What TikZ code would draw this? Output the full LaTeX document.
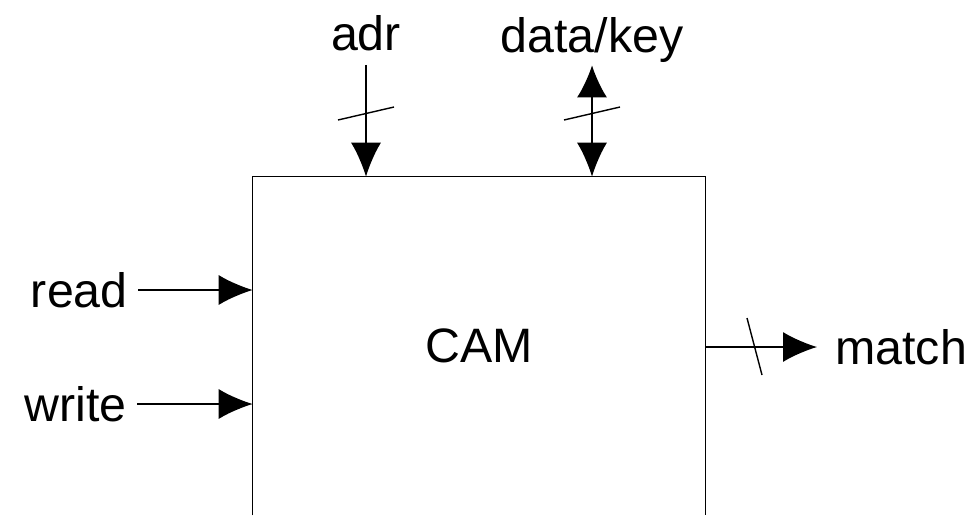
\documentclass[tikz,border=0pt]{standalone}
\usepackage{fontspec}
\setmainfont{Liberation Sans}
\usetikzlibrary{arrows.meta}

\begin{document}
\begin{tikzpicture}[
    x=0.02cm, y=-0.02cm,
    lbl/.style={font=\fontsize{27.5}{33}\selectfont, inner sep=0pt},
    sig/.style={-{Latex[length=0.68cm, width=0.6cm]}, line width=0.8pt},
    bidir/.style={{Latex[length=0.64cm, width=0.6cm]}-{Latex[length=0.68cm, width=0.6cm]}, line width=0.8pt},
    tick/.style={line width=0.8pt}
]
\useasboundingbox (0,0) rectangle (976,515);
\node[lbl, minimum width=9.04cm, minimum height=6.76cm] (cam) at (479,346) {CAM};
\draw[line width=0.9pt] (cam.south west) -- (cam.north west) -- (cam.north east) -- (cam.south east);

\node[lbl, anchor=base] (adr) at (366,50) {adr};
\node[lbl, anchor=base] (data) at (592,52) {data/key};
\node[lbl, anchor=east] (read) at (128,290) {read};
\node[lbl, anchor=east] (write) at (127,404) {write};
\node[lbl, anchor=west] (match) at (835,347) {match};

\coordinate (adrbus) at (366,113.5);
\coordinate (databus) at (592,113.5);
\coordinate (matchbus) at (754.5,346.5);

\draw[sig, shorten <=0.28cm] (adr.south) -- (adr.south |- cam.north);
\draw[bidir, shorten <=0.06cm] (data.south) -- (data.south |- cam.north);
\draw[sig, shorten <=0.2cm] (read.east) -- (read.east -| cam.west);
\draw[sig, shorten <=0.2cm] (write.east) -- (write.east -| cam.west);
\draw[sig, shorten >=0.36cm] (cam.east |- match.west) -- (match.west);

\draw[tick] ([shift={(-28,6.5)}]adrbus) -- ([shift={(28,-6.5)}]adrbus);
\draw[tick] ([shift={(-28,6.5)}]databus) -- ([shift={(28,-6.5)}]databus);
\draw[tick] ([shift={(-7.5,-28.5)}]matchbus) -- ([shift={(7.5,28.5)}]matchbus);
\end{tikzpicture}
\end{document}
